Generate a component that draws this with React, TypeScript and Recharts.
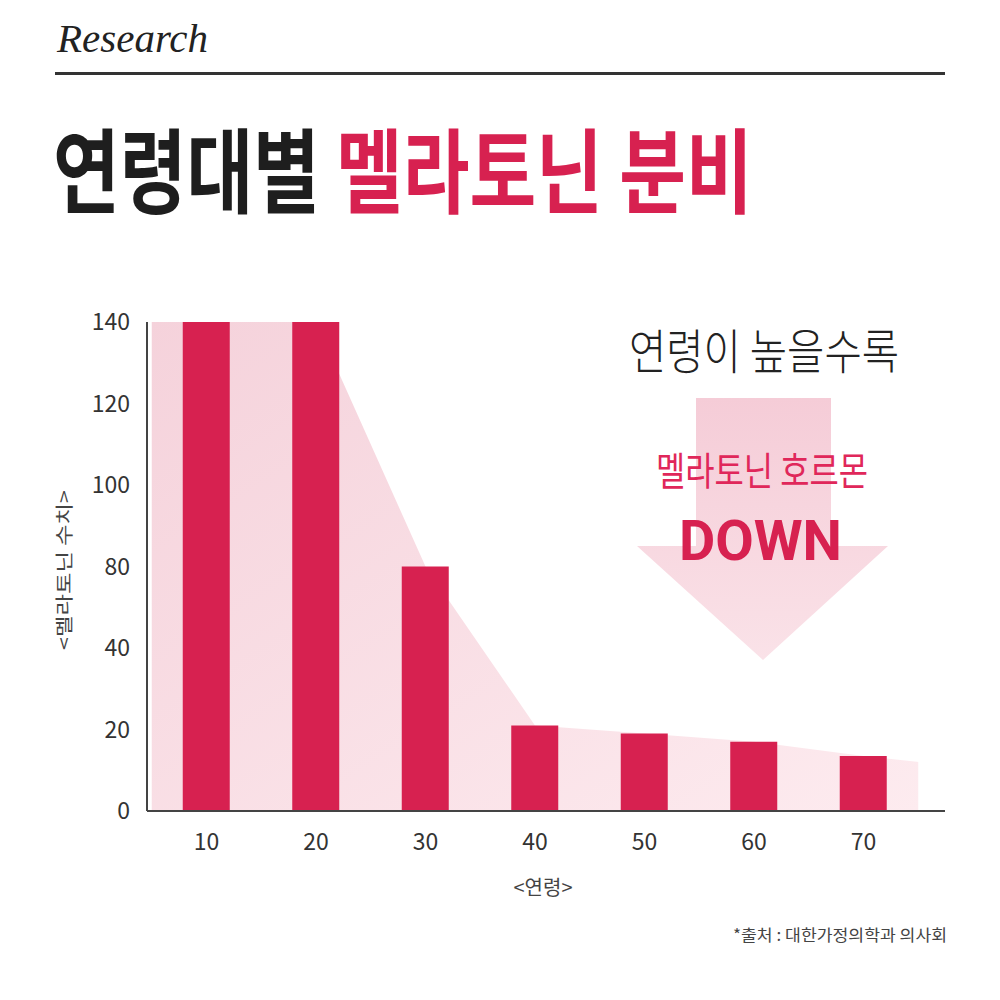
import React from 'react';
import { ComposedChart, Bar, Area, XAxis, YAxis } from 'recharts';

const AGES = [10, 20, 30, 40, 50, 60, 70];
const MELATONIN = [140, 140, 80, 21, 19, 17, 13.5];
// pale band behind the bars, same trend carried out to the plot edges
const BAND_AGES = [4.6, 10, 20, 30, 40, 50, 60, 70, 75.2];
const BAND_VALUES = [140, 140, 140, 80, 21, 19, 17, 13.5, 12];
// the source axis skips 60, ticks are evenly spaced
const Y_TICKS = [0, 20, 40, 80, 100, 120, 140];

const RED = '#d72150';
const KR = '"Noto Sans CJK KR", "Noto Sans", sans-serif';

const barData = AGES.map((age, i) => ({ age, value: MELATONIN[i] }));
const bandData = BAND_AGES.map((age, i) => ({ age, level: BAND_VALUES[i] }));

// piecewise linear scale: each tick gets the same slot height
function tickScale(stops: number[]): any {
  let dom = [stops[0], stops[stops.length - 1]];
  let rng = [0, 1];
  const n = stops.length - 1;
  const s: any = (v: number) => {
    let i = 0;
    while (i < n - 1 && v > stops[i + 1]) i++;
    const t = (i + (v - stops[i]) / (stops[i + 1] - stops[i])) / n;
    return rng[0] + (rng[1] - rng[0]) * t;
  };
  s.domain = (d?: number[]) => {
    if (d === undefined) return dom.slice();
    dom = d.slice();
    return s;
  };
  s.range = (r?: number[]) => {
    if (r === undefined) return rng.slice();
    rng = r.slice();
    return s;
  };
  s.copy = () => tickScale(stops).domain(dom).range(rng);
  s.ticks = () => stops.slice();
  s.invert = (px: number) => {
    const t = ((px - rng[0]) / (rng[1] - rng[0])) * n;
    const i = Math.max(0, Math.min(n - 1, Math.floor(t)));
    return stops[i] + (t - i) * (stops[i + 1] - stops[i]);
  };
  s.nice = () => s;
  s.clamp = () => s;
  s.tickFormat = () => (v: number) => String(v);
  return s;
}

const Overlay = () => (
  <svg width={1000} height={1000} style={{ position: 'absolute', left: 0, top: 0 }}>
    <defs>
      <linearGradient id="arrowFill" x1="0" y1="0" x2="0" y2="1">
        <stop offset="0%" stopColor="#f5ccd7" />
        <stop offset="100%" stopColor="#fae2e8" />
      </linearGradient>
    </defs>
    <text x={57} y={52} fontFamily='"Liberation Serif", serif' fontStyle="italic" fontSize={41} fill="#222">
      Research
    </text>
    <line x1={55} x2={945} y1={73.5} y2={73.5} stroke="#333" strokeWidth={3} />
    {/* condensed title: smaller type stretched upward */}
    <g transform="translate(0 206) scale(1 1.27)">
      <text x={53} y={0} fontFamily={KR} fontWeight={700} fontSize={72.5} fill="#1e1e1e">
        연령대별
      </text>
      <text x={336} y={0} fontFamily={KR} fontWeight={700} fontSize={72.5} fill={RED}>
        멜라토닌 분비
      </text>
    </g>

    <polygon points="696,398 831,398 831,546 888,546 763,660 637,546 696,546" fill="url(#arrowFill)" />
    <text x={629} y={369} fontFamily={KR} fontWeight={300} fontSize={48} fill="#222"
      textLength={270} lengthAdjust="spacingAndGlyphs">
      연령이 높을수록
    </text>
    <text x={656} y={485} fontFamily={KR} fontSize={39} fill="#e0275a"
      textLength={212} lengthAdjust="spacingAndGlyphs">
      멜라토닌 호르몬
    </text>
    <text x={679} y={560} fontFamily="Roboto, sans-serif" fontWeight={700} fontSize={56} fill={RED}
      textLength={163} lengthAdjust="spacingAndGlyphs">
      DOWN
    </text>

    <text x={0} y={0} transform="translate(71 570) rotate(-90)" textAnchor="middle" fontFamily={KR}
      fontSize={18} fill="#444" textLength={160} lengthAdjust="spacingAndGlyphs">
      {'<멜라토닌 수치>'}
    </text>
    <text x={543} y={895} textAnchor="middle" fontFamily={KR} fontSize={20} fill="#444">
      {'<연령>'}
    </text>
    <text x={733} y={941} fontFamily={KR} fontSize={16} fill="#444"
      textLength={214} lengthAdjust="spacingAndGlyphs">
      *출처 : 대한가정의학과 의사회
    </text>
  </svg>
);

export default function App() {
  const tick = { fontSize: 23, fill: '#333', fontFamily: KR };
  return (
    <div style={{ position: 'absolute', left: 0, top: 0, width: 1000, height: 1000, background: '#fff' }}>
      <ComposedChart
        width={1000}
        height={1000}
        data={barData}
        margin={{ top: 322, right: 55, bottom: 149, left: 0 }}
      >
        <defs>
          <linearGradient id="bandFill" x1="0" y1="0" x2="1" y2="1">
            <stop offset="0%" stopColor="#f5d2db" />
            <stop offset="100%" stopColor="#fdebef" />
          </linearGradient>
        </defs>
        <XAxis
          xAxisId="cat"
          dataKey="age"
          type="category"
          height={40}
          padding={{ left: 4.75, right: 26.75 }}
          axisLine={{ stroke: '#444', strokeWidth: 2 }}
          tickLine={false}
          tickSize={0}
          tickMargin={23}
          tick={tick}
        />
        <XAxis
          xAxisId="num"
          dataKey="age"
          type="number"
          domain={[5, 75]}
          allowDataOverflow
          padding={{ left: 4.75, right: 26.75 }}
          hide
        />
        <YAxis
          type="number"
          domain={[0, 140]}
          ticks={Y_TICKS}
          interval={0}
          scale={tickScale(Y_TICKS)}
          width={147}
          axisLine={{ stroke: '#444', strokeWidth: 2 }}
          tickLine={false}
          tickSize={0}
          tickMargin={17}
          tick={tick}
        />
        <Area
          xAxisId="num"
          data={bandData}
          dataKey="level"
          type="linear"
          stroke="none"
          fill="url(#bandFill)"
          fillOpacity={1}
          isAnimationActive={false}
        />
        <Bar xAxisId="cat" dataKey="value" fill={RED} barSize={47} isAnimationActive={false} />
      </ComposedChart>
      <Overlay />
    </div>
  );
}
